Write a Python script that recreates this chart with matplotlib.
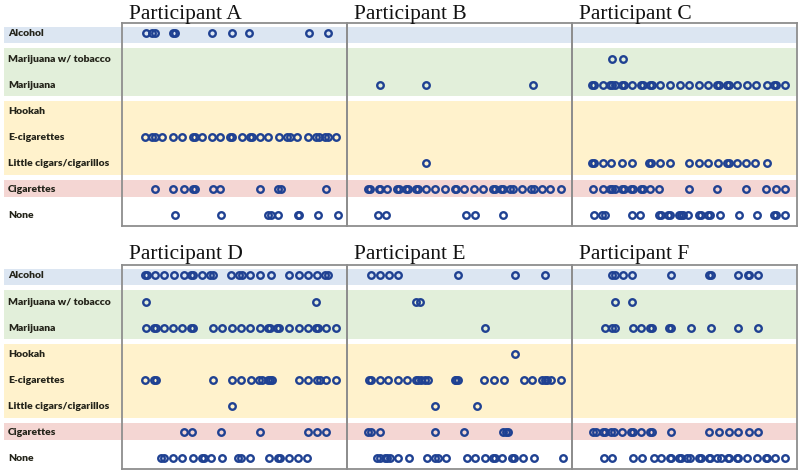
import matplotlib
matplotlib.use("Agg")
import matplotlib.pyplot as plt

substances = ["Alcohol", "Marijuana w/ tobacco", "Marijuana", "Hookah",
              "E-cigarettes", "Little cigars/cigarillos", "Cigarettes", "None"]

# study day of each reported use, per participant and substance
participant_a = {
    "Alcohol": [1.1, 1.7, 2.0, 3.95, 4.1, 8.0, 10.1, 11.8, 18.1, 20.1],
    "E-cigarettes": [1.0, 1.7, 2.0, 2.8, 3.9, 4.9, 6.0, 6.2, 6.9, 8.0, 8.8, 9.8,
                     10.1, 11.1, 11.9, 12.1, 13.0, 13.8, 15.0, 15.8, 16.1, 16.8,
                     18.0, 18.8, 19.1, 19.8, 20.1, 20.9],
    "Cigarettes": [2.0, 3.9, 5.1, 6.0, 6.2, 8.1, 8.8, 13.0, 14.9, 15.2, 19.9],
    "None": [4.1, 8.9, 13.8, 14.1, 14.9, 16.9, 17.0, 19.0, 21.1],
}
participant_b = {
    "Marijuana": [2.0, 6.8, 18.0],
    "Little cigars/cigarillos": [6.8],
    "Cigarettes": [0.8, 1.0, 1.9, 2.0, 2.8, 3.8, 4.0, 4.75, 5.0, 5.8, 6.0, 6.8,
                   7.8, 8.8, 9.8, 10.0, 10.8, 11.8, 12.8, 13.8, 14.0, 14.6,
                   14.9, 15.6, 15.9, 16.8, 17.8, 18.1, 18.9, 19.8, 20.9],
    "None": [1.8, 2.7, 11.0, 11.9, 14.8],
}
participant_c = {
    "Marijuana w/ tobacco": [2.8, 3.9],
    "Marijuana": [0.7, 0.9, 1.8, 2.6, 2.8, 3.1, 3.8, 4.0, 4.8, 5.8, 6.0, 6.7,
                  6.9, 7.8, 8.8, 9.85, 10.8, 11.8, 12.8, 13.7, 13.9, 14.7, 15.0,
                  15.8, 16.8, 17.8, 18.9, 19.6, 19.9, 20.8],
    "Little cigars/cigarillos": [0.7, 0.9, 1.8, 2.7, 3.8, 4.8, 6.6, 6.8, 7.8,
                                 8.8, 10.8, 11.8, 12.8, 13.8, 14.7, 15.0, 15.8,
                                 16.7, 17.7, 18.9],
    "Cigarettes": [0.8, 1.8, 2.6, 2.8, 3.1, 3.8, 4.0, 4.75, 5.0, 5.8, 6.0, 6.7,
                   7.7, 10.8, 13.7, 16.7, 18.8, 19.85, 20.8],
    "None": [0.9, 1.7, 2.0, 4.8, 5.7, 7.7, 7.9, 8.6, 8.8, 9.7, 10.0, 10.2, 10.7,
             11.8, 12.05, 12.8, 13.0, 14.0, 15.95, 17.9, 19.6, 19.9, 20.8],
}
participant_d = {
    "Alcohol": [1.0, 1.2, 2.0, 3.0, 4.0, 5.1, 5.8, 6.0, 6.9, 7.8, 8.1, 10.0,
                10.8, 11.1, 11.9, 13.0, 14.1, 16.0, 17.0, 18.0, 18.9, 19.8, 20.1],
    "Marijuana w/ tobacco": [1.1, 18.8],
    "Marijuana": [1.1, 1.9, 2.1, 3.0, 3.9, 4.8, 5.8, 6.0, 8.1, 9.0, 10.1, 11.0,
                  11.9, 13.0, 13.8, 14.0, 14.7, 15.0, 16.0, 17.0, 18.0, 18.8,
                  19.05, 19.9, 20.9],
    "E-cigarettes": [1.0, 1.9, 2.1, 8.1, 10.1, 11.0, 12.0, 12.9, 13.2, 13.8,
                     14.0, 14.2, 17.0, 18.0, 18.9, 19.2, 19.9, 20.9],
    "Little cigars/cigarillos": [10.1],
    "Cigarettes": [5.1, 5.9, 8.9, 13.0, 18.0, 18.9, 19.9],
    "None": [2.7, 3.0, 3.9, 4.9, 6.0, 6.9, 7.1, 7.9, 9.0, 10.7, 11.0, 11.9,
             13.9, 14.9, 15.1, 16.0, 16.9, 17.9],
}
participant_e = {
    "Alcohol": [1.1, 2.0, 3.0, 3.9, 10.2, 16.1, 19.2],
    "Marijuana w/ tobacco": [5.8, 6.2],
    "Marijuana": [13.0],
    "Hookah": [16.1],
    "E-cigarettes": [0.9, 1.1, 2.0, 2.9, 3.9, 4.9, 5.8, 6.0, 6.3, 6.7, 7.0, 9.8,
                     10.0, 10.2, 12.9, 13.9, 15.0, 17.0, 17.9, 18.9, 19.2, 19.4,
                     19.9, 20.9],
    "Little cigars/cigarillos": [7.8, 12.1],
    "Cigarettes": [0.8, 1.1, 2.0, 7.8, 10.8, 14.9, 15.2, 15.4],
    "None": [1.7, 2.0, 2.6, 2.8, 3.1, 3.95, 5.1, 6.9, 7.8, 8.1, 8.9, 11.1, 11.9,
             13.0, 13.8, 14.0, 14.7, 15.8, 16.0, 16.9, 18.1, 21.1],
}
participant_f = {
    "Alcohol": [2.8, 3.1, 3.9, 4.9, 8.9, 12.9, 13.05, 15.9, 16.9, 17.0, 18.0],
    "Marijuana w/ tobacco": [3.1, 4.8],
    "Marijuana": [2.0, 2.8, 3.1, 5.0, 5.8, 6.7, 6.9, 8.7, 8.9, 11.0, 13.05,
                  15.9, 18.0],
    "Cigarettes": [0.8, 1.1, 1.8, 2.0, 2.7, 3.0, 3.8, 4.75, 5.0, 5.8, 6.7, 6.9,
                   8.9, 12.9, 13.9, 15.0, 15.9, 17.0, 18.0],
    "None": [1.9, 2.8, 5.0, 5.9, 7.1, 7.9, 8.8, 8.9, 9.7, 10.0, 10.6, 10.9, 11.8,
             12.0, 12.9, 13.0, 13.7, 14.1, 14.8, 15.0, 15.8, 15.9, 16.8, 17.9,
             18.8, 18.9, 19.7, 20.8],
}

participants = [("Participant A", participant_a), ("Participant B", participant_b),
                ("Participant C", participant_c), ("Participant D", participant_d),
                ("Participant E", participant_e), ("Participant F", participant_f)]

# band colours grouping the substances (row ranges in row units)
bands = [(-0.25, 0.37, "#dce6f2"), (0.57, 2.43, "#e2efda"),
         (2.62, 5.45, "#fff2cc"), (5.64, 6.29, "#f4d6d3")]

W, H = 800, 473
fig = plt.figure(figsize=(W / 100, H / 100), dpi=100)

panel_y = [(23, 226), (265, 469)]   # top/bottom of each panel box in pixels
title_gap = [4.5, 6]                # baseline of titles above the box, pixels
col_x = [122, 347, 572]
col_w = 225
ylim = (7.42, -0.4)
xlim = (-1.4, 22.04)
dot_color = "#1f4192"
label_font = ["Lato", "DejaVu Sans"]
title_font = ["Liberation Serif", "DejaVu Serif"]


def frac_rect(x0, y0, w, h):
    return [x0 / W, 1 - (y0 + h) / H, w / W, h / H]


for p, (top, bot) in enumerate(panel_y):
    bg = fig.add_axes(frac_rect(0, top, W, bot - top))
    bg.set_xlim(0, W)
    bg.set_ylim(*ylim)
    bg.axis("off")
    for lo, hi, col in bands:
        bg.axhspan(lo, hi, xmin=4 / W, xmax=797 / W, color=col, lw=0)
    for r, name in enumerate(substances):
        bg.text(8, r + 0.02, name, va="center", ha="left", fontsize=7.5,
                fontweight="heavy", color="#24241a", family=label_font)

    for c in range(3):
        title, data = participants[p * 3 + c]
        ax = fig.add_axes(frac_rect(col_x[c], top, col_w, bot - top))
        ax.patch.set_alpha(0)
        ax.set_xlim(*xlim)
        ax.set_ylim(*ylim)
        ax.set_xticks([])
        ax.set_yticks([])
        for s in ax.spines.values():
            s.set_color("#8e8e8e")
            s.set_linewidth(1.3)
        for r, name in enumerate(substances):
            days = data.get(name, [])
            if days:
                ax.plot(days, [r] * len(days), "o", ms=4.7, mfc="none",
                        mec=dot_color, mew=1.7)
        ax.text(0.03, 1 + title_gap[p] / (bot - top), title,
                transform=ax.transAxes, ha="left", va="baseline",
                fontsize=15.5, family=title_font, color="#111111")

fig.savefig("out.png", dpi=100)
